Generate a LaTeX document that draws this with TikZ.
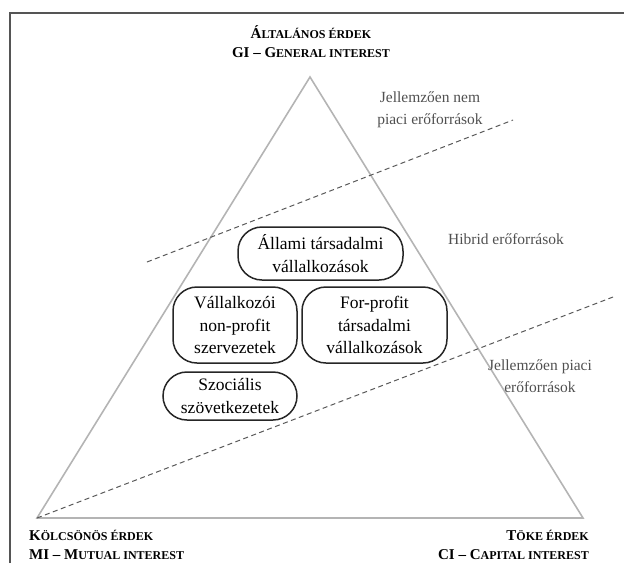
\documentclass[tikz,border=0pt]{standalone}
\usepackage{fontspec}
\setmainfont{Liberation Serif}
\newcommand{\smc}[1]{{\fontsize{12}{14}\selectfont #1}}
\definecolor{trigray}{HTML}{B4B4B4}
\definecolor{lblgray}{HTML}{505050}
\definecolor{framegray}{HTML}{555555}
\tikzset{
  box/.style={draw=black!85, line width=1.5pt, rounded corners=24pt, align=center,
    font=\fontsize{17.5}{22.5}\selectfont, inner sep=0pt},
  region/.style={text=lblgray, align=center, font=\fontsize{15.5}{22.5}\selectfont, inner sep=0pt},
  corner/.style={font=\bfseries\fontsize{15}{19}\selectfont, inner sep=0pt},
  tri/.style={draw=trigray, line width=1.6pt, line join=miter},
  sep/.style={draw=black!65, dash pattern=on 5pt off 3.5pt, line width=1pt}
}
\begin{document}
\begin{tikzpicture}[x=1pt,y=-1pt]
\useasboundingbox (0,0) rectangle (624,563);
% frame
\draw[framegray, line width=1.8pt] (10,563) -- (10,13) -- (624,13);
% triangle
\coordinate (A) at (310,77);
\coordinate (B) at (37,518);
\coordinate (C) at (583,518);
\draw[tri] (A) -- (B) -- (C) -- cycle;
% dashed separators
\coordinate (d1s) at (147,262);
\coordinate (d1e) at (513,120);
\coordinate (d2e) at (613,297);
\draw[sep] (d1s) -- (d1e);
\draw[sep] (B) -- (d2e);
% corner labels
\node[corner, align=center] (gi) at (311,42) {Á\smc{LTALÁNOS ÉRDEK}\\GI – G\smc{ENERAL INTEREST}};
\node[corner, align=left, anchor=south west] (mi) at (29,559.5) {K\smc{ÖLCSÖNÖS ÉRDEK}\\MI – M\smc{UTUAL INTEREST}};
\node[corner, align=right, anchor=south east] (ci) at (589,559.5) {T\smc{ÖKE ÉRDEK}\\CI – C\smc{APITAL INTEREST}};
% region labels
\node[region] (nonmarket) at (430,110) {Jellemzően nem\\piaci erőforrások};
\node[region] (hybrid) at (506,239) {Hibrid erőforrások};
\node[region] (market) at (540,376) {Jellemzően piaci\\erőforrások};
% boxes
\node[box, minimum width=165pt, minimum height=53pt] (allami) at (320.5,253.5) {Állami társadalmi\\vállalkozások};
\node[box, minimum width=124pt, minimum height=76pt] (nonprofit) at (235,325) {Vállalkozói\\non-profit\\szervezetek};
\node[box, minimum width=145pt, minimum height=76pt] (forprofit) at (374.5,325) {For-profit\\társadalmi\\vállalkozások};
\node[box, minimum width=134pt, minimum height=48pt] (szov) at (230,396) {Szociális\\szövetkezetek};
\end{tikzpicture}
\end{document}
